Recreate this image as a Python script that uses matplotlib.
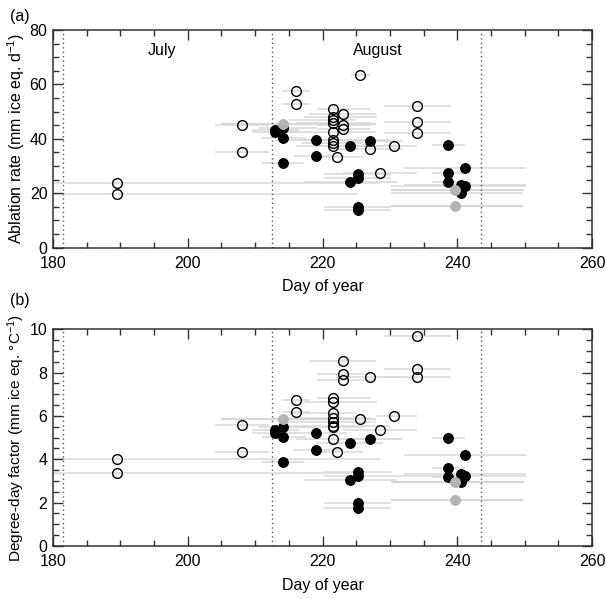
import matplotlib
matplotlib.use("Agg")
import matplotlib.pyplot as plt
from matplotlib.ticker import MultipleLocator

plt.rcParams['font.family'] = ['Liberation Sans', 'DejaVu Sans']
plt.rcParams['mathtext.fontset'] = 'custom'
plt.rcParams['mathtext.rm'] = 'Liberation Sans'
plt.rcParams['mathtext.it'] = 'Liberation Sans:italic'
plt.rcParams['mathtext.bf'] = 'Liberation Sans:bold'

# ---------------- data ----------------
# open circles
open_day = [189.5, 189.5, 208.1, 208.1, 216.1, 216.1,
            221.5, 221.5, 221.5, 221.5, 221.5, 221.5, 221.5, 221.5,
            223.1, 223.1, 223.1, 222.1, 225.6, 227.1, 230.6, 228.6,
            234.1, 234.1, 234.1]
open_abl = [23.7, 19.8, 45.1, 35.1, 57.6, 52.8,
            50.8, 48.0, 47.1, 45.8, 42.6, 39.4, 38.5, 37.2,
            49.1, 45.2, 43.7, 33.2, 63.6, 36.4, 37.2, 27.3,
            52.1, 46.2, 42.1]
open_ddf = [4.01, 3.35, 5.60, 4.35, 6.75, 6.17,
            6.82, 6.63, 6.15, 5.89, 5.74, 5.54, 5.51, 4.92,
            8.54, 7.92, 7.66, 4.34, 5.86, 7.80, 6.00, 5.34,
            9.69, 8.18, 7.81]
open_start = [150.0, 150.0, 204.1, 204.1, 214.0, 214.0,
              219.2, 217.2, 215.0, 216.0, 215.0, 213.0, 217.0, 216.0,
              218.0, 219.2, 219.2, 219.0, 224.2, 222.0, 228.1, 223.1,
              229.1, 229.1, 229.1]
open_end = [228.6, 225.2, 212.0, 212.0, 218.1, 218.1,
            227.1, 228.1, 225.0, 227.0, 228.0, 230.0, 226.0, 231.0,
            228.0, 227.1, 227.1, 226.0, 227.1, 232.0, 234.1, 234.1,
            239.1, 239.1, 239.1]

# filled black circles
black_day = [213.0, 213.0, 214.1, 214.1, 214.1, 219.1, 219.1,
             224.1, 224.1, 225.2, 225.2, 225.2, 225.2, 227.1,
             238.7, 238.7, 238.7, 241.2, 240.5, 241.2, 240.6]
black_abl = [43.4, 42.4, 44.0, 40.4, 31.3, 39.7, 33.8,
             37.5, 24.0, 27.0, 25.6, 15.1, 13.9, 39.3,
             37.7, 27.4, 24.3, 29.3, 23.1, 22.5, 20.0]
black_ddf = [5.35, 5.20, 5.51, 5.04, 3.89, 5.20, 4.43,
             4.77, 3.05, 3.43, 3.23, 1.97, 1.77, 4.94,
             4.97, 3.61, 3.20, 4.21, 3.31, 3.24, 2.94]
black_start = [209.5, 209.5, 210.5, 211.0, 211.0, 215.7, 215.7,
               219.0, 217.2, 220.2, 220.2, 220.2, 220.2, 223.1,
               236.2, 236.2, 236.2, 232.1, 232.1, 230.1, 230.1]
black_end = [216.5, 216.5, 219.0, 217.5, 217.2, 223.7, 222.8,
             229.0, 231.1, 230.1, 230.1, 230.1, 230.1, 232.0,
             241.1, 241.1, 241.1, 250.2, 250.2, 250.2, 249.7]

# filled grey circles
grey_day = [214.1, 239.7, 239.7]
grey_abl = [45.5, 21.3, 15.4]
grey_ddf = [5.84, 2.97, 2.12]
grey_start = [205.0, 230.1, 230.1]
grey_end = [228.0, 249.9, 249.7]

month_bounds = [181.5, 212.5, 243.5]
month_names = ["July", "August"]
month_label_x = [196.1, 228.2]

# ---------------- figure ----------------
W, H = 606, 599
fig = plt.figure(figsize=(W / 100, H / 100), dpi=100)
ax1 = fig.add_axes([53 / W, 1 - 247.7 / H, 539 / W, 217.7 / H])
ax2 = fig.add_axes([53 / W, 1 - 546 / H, 539 / W, 216.7 / H])

bar_col = '#d8d8d8'
grey_col = '#b4b4b4'


def draw(ax, key):
    ov = open_abl if key == 'abl' else open_ddf
    bv = black_abl if key == 'abl' else black_ddf
    gv = grey_abl if key == 'abl' else grey_ddf
    ax.hlines(ov, open_start, open_end, color=bar_col, lw=1.1, zorder=1)
    ax.hlines(bv, black_start, black_end, color=bar_col, lw=1.1, zorder=1)
    ax.hlines(gv, grey_start, grey_end, color=bar_col, lw=1.6, zorder=1)
    ax.plot(open_day, ov, 'o', ms=7, mfc='none', mec='black', mew=1.0,
            zorder=3)
    ax.plot(black_day, bv, 'o', ms=7, mfc='black', mec='black', mew=0.8,
            zorder=3)
    ax.plot(grey_day, gv, 'o', ms=7, mfc=grey_col, mec=grey_col, mew=0.8,
            zorder=3)
    for xb in month_bounds:
        ax.axvline(xb, color='#555555', ls=(0, (1, 2.2)), lw=1.0, zorder=2)
    ax.set_xlim(180, 260)
    ax.xaxis.set_major_locator(MultipleLocator(20))
    ax.xaxis.set_minor_locator(MultipleLocator(5))
    ax.tick_params(which='both', direction='in', top=True, right=True,
                   labelsize=11.5, width=1.0, color='#333333')
    ax.tick_params(which='major', length=7)
    ax.tick_params(axis='x', which='major', pad=6)
    ax.tick_params(axis='y', which='major', pad=4)
    ax.tick_params(which='minor', length=4)
    for s in ax.spines.values():
        s.set_linewidth(1.1)
        s.set_color('#333333')
    ax.set_xlabel('Day of year', fontsize=11.5, labelpad=6)


draw(ax1, 'abl')
ax1.set_ylim(0, 80)
ax1.yaxis.set_major_locator(MultipleLocator(20))
ax1.yaxis.set_minor_locator(MultipleLocator(5))
ax1.set_ylabel('Ablation rate (mm ice eq. d$^{-1}$)', fontsize=11.5, labelpad=2)
for name, xm in zip(month_names, month_label_x):
    ax1.text(xm, 72.3, name, ha='center', va='center', fontsize=11.5)

draw(ax2, 'ddf')
ax2.set_ylim(0, 10)
ax2.yaxis.set_major_locator(MultipleLocator(2))
ax2.yaxis.set_minor_locator(MultipleLocator(0.5))
ax2.set_ylabel('Degree-day factor (mm ice eq. °C$^{-1}$)', fontsize=11.1,
               labelpad=2)

fig.text(10 / W, 1 - 16 / H, '(a)', fontsize=11.5, ha='left', va='center')
fig.text(10 / W, 1 - 301 / H, '(b)', fontsize=11.5, ha='left', va='center')

fig.savefig('out.png', dpi=100)
